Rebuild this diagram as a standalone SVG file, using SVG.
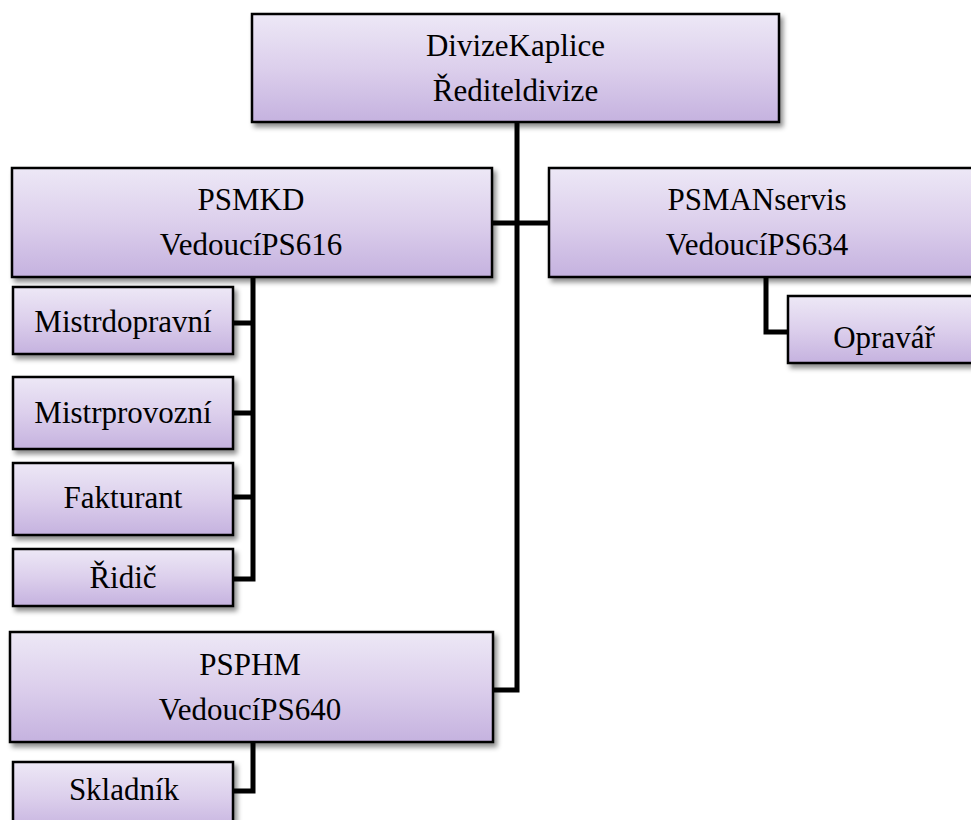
<svg xmlns="http://www.w3.org/2000/svg" width="971" height="820" viewBox="0 0 971 820">
  <defs>
    <linearGradient id="boxFill" x1="0" y1="0" x2="0" y2="1">
      <stop offset="0" stop-color="#ede8f6"/>
      <stop offset="0.5" stop-color="#dccfec"/>
      <stop offset="1" stop-color="#c5b2df"/>
    </linearGradient>
    <filter id="shadow" x="-10%" y="-10%" width="125%" height="135%">
      <feDropShadow dx="3" dy="4" stdDeviation="2.5" flood-color="#000" flood-opacity="0.45"/>
    </filter>
  </defs>
  <style>
    .box { fill: url(#boxFill); stroke: #000; stroke-width: 2.5; filter: url(#shadow); }
    .lbl { font-family: "Liberation Serif", "Times New Roman", "DejaVu Serif", serif; font-size: 31px; fill: #000; text-anchor: middle; }
    .conn { fill: none; stroke: #000; stroke-width: 5; stroke-linejoin: miter; }
  </style>
  <rect width="971" height="820" fill="#fff"/>

  <!-- org-chart connectors -->
  <g id="connectors">
    <path class="conn" d="M517 122 V690 H493"/>
    <path class="conn" d="M492 223 H549"/>
    <path class="conn" d="M253 277 V579 H233"/>
    <path class="conn" d="M253 323 H233"/>
    <path class="conn" d="M253 413 H233"/>
    <path class="conn" d="M253 497 H233"/>
    <path class="conn" d="M766 277 V332 H788"/>
    <path class="conn" d="M253 742 V791 H233"/>
  </g>

  <g id="divize-kaplice">
    <rect class="box" x="252" y="14" width="527" height="108"/>
    <text class="lbl" x="515.5" y="56">DivizeKaplice</text>
    <text class="lbl" x="515.5" y="101">Řediteldivize</text>
  </g>

  <g id="psmkd">
    <rect class="box" x="12" y="168" width="480" height="109"/>
    <text class="lbl" x="251" y="210">PSMKD</text>
    <text class="lbl" x="251" y="255">VedoucíPS616</text>
  </g>

  <g id="psmanservis">
    <rect class="box" x="549" y="168" width="480" height="109"/>
    <text class="lbl" x="757" y="210">PSMANservis</text>
    <text class="lbl" x="757" y="255">VedoucíPS634</text>
  </g>

  <g id="opravar">
    <rect class="box" x="788" y="296" width="220" height="67"/>
    <text class="lbl" x="884" y="348">Opravář</text>
  </g>

  <g id="mistr-dopravni">
    <rect class="box" x="13" y="287" width="220" height="67"/>
    <text class="lbl" x="123" y="332">Mistrdopravní</text>
  </g>

  <g id="mistr-provozni">
    <rect class="box" x="13" y="377" width="220" height="72"/>
    <text class="lbl" x="123" y="423">Mistrprovozní</text>
  </g>

  <g id="fakturant">
    <rect class="box" x="13" y="463" width="220" height="72"/>
    <text class="lbl" x="123" y="508">Fakturant</text>
  </g>

  <g id="ridic">
    <rect class="box" x="13" y="549" width="220" height="57"/>
    <text class="lbl" x="123" y="588">Řidič</text>
  </g>

  <g id="psphm">
    <rect class="box" x="10" y="632" width="483" height="110"/>
    <text class="lbl" x="250" y="675">PSPHM</text>
    <text class="lbl" x="250" y="720">VedoucíPS640</text>
  </g>

  <g id="skladnik">
    <rect class="box" x="13" y="762" width="220" height="70"/>
    <text class="lbl" x="124" y="800">Skladník</text>
  </g>
</svg>
